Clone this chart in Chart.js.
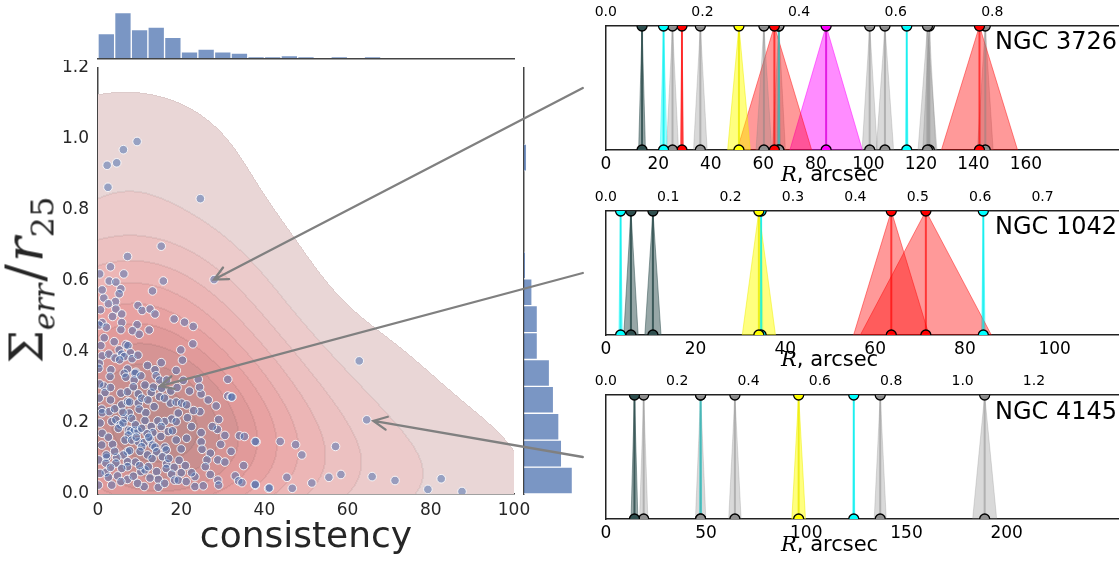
<!DOCTYPE html>
<html>
<head>
<meta charset="utf-8">
<script src="https://cdn.jsdelivr.net/npm/chart.js@4.4.0/dist/chart.umd.min.js"></script>
<style>
body{margin:0;width:1119px;height:563px;overflow:hidden;background:#fff;position:relative;font-family:"DejaVu Sans",sans-serif}
canvas{position:absolute}
.lbl{position:absolute;white-space:nowrap;color:#000}
</style>
</head>
<body>
<canvas id="topHist" width="430" height="62" style="left:90px;top:0"></canvas>
<canvas id="main" width="500" height="470" style="left:40px;top:60px"></canvas>
<canvas id="rightHist" width="64" height="470" style="left:518px;top:60px"></canvas>
<canvas id="p1" width="560" height="180" style="left:580px;top:0"></canvas>
<canvas id="p2" width="560" height="180" style="left:580px;top:185px"></canvas>
<canvas id="p3" width="560" height="180" style="left:580px;top:369px"></canvas>
<canvas id="arrows" width="1119" height="563" style="left:0;top:0;pointer-events:none"></canvas>

<div class="lbl" style="left:31px;top:280px;transform:translate(-50%,-50%) rotate(-90deg);font-family:'DejaVu Serif',serif;color:#262626;line-height:56px"><span style="font-size:47px">&Sigma;</span><i style="font-size:30px;position:relative;top:12px">err</i><span style="font-size:52px;margin:0 2px">/</span><i style="font-size:52px">r</i><span style="font-size:32px;position:relative;top:11px">25</span></div>
<div class="lbl" style="left:306px;top:517px;transform:translateX(-50%);font-size:36px;line-height:36px;color:#262626">consistency</div>

<div class="lbl" style="left:995px;top:29px;font-size:24px;line-height:24px">NGC 3726</div>
<div class="lbl" style="left:995px;top:214px;font-size:24px;line-height:24px">NGC 1042</div>
<div class="lbl" style="left:995px;top:399px;font-size:24px;line-height:24px">NGC 4145</div>
<div class="lbl" style="left:781px;top:164px;font-size:21px;line-height:21px"><i style="font-family:'DejaVu Serif',serif">R</i>, arcsec</div>
<div class="lbl" style="left:781px;top:349px;font-size:21px;line-height:21px"><i style="font-family:'DejaVu Serif',serif">R</i>, arcsec</div>
<div class="lbl" style="left:781px;top:534px;font-size:21px;line-height:21px"><i style="font-family:'DejaVu Serif',serif">R</i>, arcsec</div>

<script>
// scatter: consistency vs sum of errors / r25
const consistency = [
  2.2, 4.5, 6.1, 9.4, 2.4, 24.6, 15.2, 7.1, 6.2, 2.7,
  4.3, 15.7, 27.9, 5.5, 5.1, 13.1, 1.4, 4.2, 2.5, 0.6,
  4.3, 5.7, 9.6, 10.6, 12.5, 13.7, 18.3, 20.8, 22.9, 1.0,
  0.3, 5.7, 5.5, 9.4, 8.3, 9.9, 12.3, 22.8, 19.9, 20.3,
  0.7, 3.9, 6.7, 7.2, 5.1, 7.8, 5.7, 1.0, 2.6, 4.1,
  6.3, 8.2, 9.6, 5.2, 0.3, 0.2, 3.1, 7.1, 9.1, 11.9,
  13.7, 15.2, 18.8, 2.9, 6.3, 6.7, 8.9, 8.7, 10.3, 14.0,
  14.8, 16.5, 24.1, 31.2, 1.4, 1.7, 5.5, 7.1, 8.5, 9.7,
  11.3, 12.8, 14.8, 13.3, 15.3, 24.8, 24.4, 31.2, 32.0, 0.9,
  1.0, 2.7, 5.7, 7.1, 7.6, 9.7, 9.9, 7.5, 11.5, 13.5,
  17.4, 18.8, 20.1, 21.3, 24.5, 28.4, 19.3, 17.7, 18.8, 16.0,
  14.4, 3.3, 4.3, 5.3, 6.5, 8.1, 11.3, 12.8, 15.2, 7.3,
  7.8, 8.7, 9.6, 7.3, 6.5, 8.1, 1.0, 0.9, 13.2, 15.1,
  16.9, 17.9, 18.8, 21.3, 24.8, 24.8, 28.7, 34.0, 35.2, 38.0,
  9.7, 11.1, 10.5, 12.5, 13.1, 13.7, 14.1, 16.1, 16.4, 20.0,
  25.0, 27.0, 7.1, 7.6, 6.1, 4.5, 2.1, 0.2, 4.3, 7.1,
  7.1, 5.7, 1.9, 1.9, 2.5, 4.7, 7.1, 10.3, 11.3, 12.1,
  14.1, 14.5, 16.5, 16.4, 18.3, 17.7, 18.4, 19.3, 21.2, 23.3,
  23.3, 26.2, 28.8, 25.8, 25.3, 28.8, 29.0, 33.0, 33.8, 34.6,
  37.8, 41.0, 11.1, 14.5, 3.3, 0.1, 0.5, 62.8, 64.6, 57.1,
  49.0, 47.5, 43.8, 37.8, 58.4, 55.5, 51.4, 45.4, 46.7, 41.2,
  37.8, 65.9, 71.4, 79.3, 82.5, 87.5, 32.2, 4.9, 6.0, 9.0,
  10.5, 11.8, 12.2, 9.2, 10.1, 11.9, 13.0, 15.5, 17.0, 19.5,
  21.0, 22.5, 9.0, 10.0, 3.5, 2.5, 4.0, 3.0, 4.0, 6.0,
  3.0, 10.5, 12.0, 16.0, 17.5, 19.0, 20.5, 22.0, 26.5, 29.0,
  27.5, 30.5, 22.5, 21.5, 23.0, 0.5, 0.3, 0.4, 1.5, 2.0,
  3.5, 1.0, 0.4, 3.0, 2.0, 3.0, 5.5, 8.5, 9.5, 12.5,
  16.0, 20.0, 27.0, 30.5, 32.0, 29.5, 35.0
]
const sigmaErr = [
  0.926, 0.933, 0.97, 0.993, 0.864, 0.832, 0.698, 0.669, 0.62, 0.60,
  0.597, 0.60, 0.604, 0.578, 0.564, 0.572, 0.552, 0.542, 0.536, 0.519,
  0.521, 0.507, 0.531, 0.517, 0.521, 0.507, 0.493, 0.484, 0.472, 0.483,
  0.476, 0.483, 0.463, 0.477, 0.46, 0.45, 0.462, 0.423, 0.406, 0.377,
  0.418, 0.429, 0.421, 0.418, 0.406, 0.398, 0.394, 0.389, 0.394, 0.383,
  0.387, 0.381, 0.391, 0.378, 0.368, 0.354, 0.35, 0.352, 0.343, 0.362,
  0.35, 0.37, 0.348, 0.331, 0.34, 0.329, 0.34, 0.321, 0.333, 0.333,
  0.321, 0.321, 0.323, 0.323, 0.304, 0.286, 0.284, 0.288, 0.302, 0.282,
  0.307, 0.286, 0.274, 0.301, 0.298, 0.282, 0.301, 0.276, 0.273, 0.239,
  0.229, 0.232, 0.251, 0.26, 0.259, 0.256, 0.239, 0.228, 0.229, 0.246,
  0.256, 0.259, 0.256, 0.251, 0.232, 0.248, 0.228, 0.211, 0.204, 0.204,
  0.206, 0.204, 0.209, 0.195, 0.213, 0.213, 0.207, 0.19, 0.19, 0.18,
  0.178, 0.178, 0.178, 0.166, 0.152, 0.152, 0.171, 0.138, 0.173, 0.162,
  0.176, 0.178, 0.152, 0.157, 0.173, 0.147, 0.182, 0.164, 0.162, 0.147,
  0.147, 0.145, 0.133, 0.154, 0.138, 0.132, 0.119, 0.132, 0.124, 0.127,
  0.126, 0.115, 0.119, 0.122, 0.11, 0.103, 0.103, 0.096, 0.087, 0.091,
  0.077, 0.072, 0.087, 0.061, 0.047, 0.051, 0.041, 0.063, 0.068, 0.077,
  0.063, 0.041, 0.085, 0.072, 0.075, 0.056, 0.039, 0.039, 0.035, 0.049,
  0.021, 0.096, 0.096, 0.077, 0.023, 0.039, 0.025, 0.051, 0.037, 0.032,
  0.025, 0.016, 0.021, 0.019, 0.025, 0.025, 0.058, 0.375, 0.209, 0.134,
  0.11, 0.139, 0.148, 0.148, 0.055, 0.047, 0.031, 0.047, 0.016, 0.017,
  0.027, 0.049, 0.038, 0.013, 0.043, 0.007, 0.273, 0.185, 0.2, 0.195,
  0.185, 0.17, 0.16, 0.16, 0.12, 0.11, 0.1, 0.105, 0.1, 0.095,
  0.08, 0.06, 0.09, 0.08, 0.14, 0.16, 0.12, 0.265, 0.24, 0.23,
  0.3, 0.27, 0.265, 0.27, 0.29, 0.3, 0.32, 0.29, 0.265, 0.21,
  0.19, 0.165, 0.19, 0.215, 0.235, 0.2, 0.27, 0.31, 0.44, 0.47,
  0.5, 0.575, 0.62, 0.64, 0.11, 0.075, 0.035, 0.05, 0.03, 0.045,
  0.03, 0.06, 0.055, 0.09, 0.12, 0.14, 0.08
]
const mainXTicks = [0, 20, 40, 60, 80, 100]
const mainYTicks = [0.0, 0.2, 0.4, 0.6, 0.8, 1.0, 1.2]

// marginal histograms
const topBinWidth = 4
const topCounts = [19, 35, 22, 24, 16, 5, 7, 5, 4, 1, 1, 2, 1, 0, 1, 0, 1, 0, 0, 0, 0, 0, 0, 0, 0]
const rightBinWidth = 0.0758
const rightCounts = [36, 28, 26, 22, 19, 10, 10, 6, 1, 0, 0, 0, 2, 0]

// kde shading
const kdeBwX = 16.5, kdeBwY = 0.135
const kdeLevels = [0.013, 0.055, 0.115, 0.19, 0.28, 0.38, 0.49, 0.61, 0.74, 0.87]
const kdeColors = ['#e9d6d6', '#eccbcb', '#ecc1c1', '#ecb6b6', '#ebacac', '#e8a2a2', '#e19a9a', '#d69494', '#ca8f8f', '#bf8b8b']

// arrows: galaxy point -> panel
const arrowX = [27.9, 14.9, 66.2]
const arrowY = [0.604, 0.304, 0.206]

// panels: radius of features, error, type
const p1R = [13.8, 22.0, 25.4, 29.0, 36.0, 50.7, 60.2, 64.2, 65.9, 65.9, 83.9, 100.5, 106.3, 114.6, 122.5, 123.2, 142.3, 144.5]
const p1Err = [1.3, 1.3, 2.3, 0.6, 2.6, 4.3, 3.0, 14.2, 2.5, 0.6, 13.8, 2.9, 3.3, 0.5, 3.6, 2.5, 14.5, 3.0]
const p1Kind = ['dsg', 'cyan', 'gray', 'red', 'gray', 'yellow', 'gray', 'red', 'gray', 'cyan', 'magenta', 'gray', 'gray', 'cyan', 'gray', 'gray', 'red', 'gray']
const p2R = [3.3, 5.6, 10.5, 34.1, 34.6, 63.6, 71.3, 84.1]
const p2Err = [0.4, 1.6, 1.8, 3.7, 0.4, 8.4, 14.6, 0.4]
const p2Kind = ['cyan', 'dsg', 'dsg', 'yellow', 'cyan', 'red', 'red', 'cyan']
const p3R = [14.3, 18.9, 47.3, 47.3, 64.4, 96.2, 123.7, 136.9, 189.0]
const p3Err = [1.7, 2.1, 2.6, 0.5, 3.1, 3.4, 0.5, 3.0, 6.0]
const p3Kind = ['dsg', 'gray', 'gray', 'cyan', 'gray', 'yellow', 'cyan', 'gray', 'gray']
const r25 = [184, 139, 178]
const bottomTickStep = [20, 20, 50]
const bottomTickLast = [160, 100, 200]
const topTickStep = [0.2, 0.1, 0.2]
const topTickLast = [0.8, 0.7, 1.2]

const kindStyle = {
  red: {fill: 'rgba(255,0,0,0.4)', edge: 'rgba(255,0,0,0.45)', line: 'rgba(255,0,0,0.65)', dot: '#ff0000'},
  gray: {fill: 'rgba(128,128,128,0.3)', edge: 'rgba(128,128,128,0.25)', line: 'rgba(128,128,128,0.45)', dot: '#8f8f8f'},
  cyan: {fill: 'rgba(0,255,255,0.4)', edge: 'rgba(0,255,255,0.4)', line: 'rgba(0,235,235,0.75)', dot: '#00ffff'},
  yellow: {fill: 'rgba(255,255,0,0.5)', edge: 'rgba(240,240,0,0.5)', line: 'rgba(235,235,0,0.8)', dot: '#ffff00'},
  magenta: {fill: 'rgba(255,0,255,0.45)', edge: 'rgba(255,0,255,0.5)', line: 'rgba(220,0,220,0.8)', dot: '#ff00ff'},
  dsg: {fill: 'rgba(47,79,79,0.5)', edge: 'rgba(47,79,79,0.5)', line: 'rgba(47,79,79,0.85)', dot: '#2f4f4f'}
}

Chart.defaults.font.family = '"DejaVu Sans", sans-serif'
Chart.defaults.animation = false
Chart.defaults.plugins.legend.display = false
Chart.defaults.plugins.tooltip.enabled = false

const spine = {display: true, color: '#444', width: 1.5}

// keep the plot box where the layout padding says, labels may overflow
function noPad(s) {
  s.paddingLeft = 0; s.paddingRight = 0; s.paddingTop = 0; s.paddingBottom = 0
}

function hexToRgb(h) {
  return [parseInt(h.slice(1, 3), 16), parseInt(h.slice(3, 5), 16), parseInt(h.slice(5, 7), 16)]
}

function buildKde(a, xs, ys) {
  const w = Math.round(a.right - a.left), h = Math.round(a.bottom - a.top), step = 3
  const gw = Math.ceil(w / step) + 2, gh = Math.ceil(h / step) + 2
  const g = new Float32Array(gw * gh)
  let max = 0
  for (let j = 0; j < gh; j++) {
    const vy = ys.getValueForPixel(a.top + j * step)
    for (let i = 0; i < gw; i++) {
      const vx = xs.getValueForPixel(a.left + i * step)
      let d = 0
      for (let k = 0; k < consistency.length; k++) {
        const dx = (vx - consistency[k]) / kdeBwX, dy = (vy - sigmaErr[k]) / kdeBwY
        d += Math.exp(-0.5 * (dx * dx + dy * dy))
      }
      g[j * gw + i] = d
      if (d > max) max = d
    }
  }
  // level of every pixel
  const lev = new Int8Array(w * h).fill(-1)
  for (let py = 0; py < h; py++) {
    const fy = py / step, j0 = Math.floor(fy), ty = fy - j0
    for (let px = 0; px < w; px++) {
      const fx = px / step, i0 = Math.floor(fx), tx = fx - i0
      const v = (g[j0 * gw + i0] * (1 - tx) + g[j0 * gw + i0 + 1] * tx) * (1 - ty) +
                (g[(j0 + 1) * gw + i0] * (1 - tx) + g[(j0 + 1) * gw + i0 + 1] * tx) * ty
      const r = v / max
      for (let L = 0; L < kdeLevels.length; L++) if (r >= kdeLevels[L]) lev[py * w + px] = L
    }
  }
  const off = document.createElement('canvas')
  off.width = w; off.height = h
  const octx = off.getContext('2d')
  const img = octx.createImageData(w, h)
  const cols = kdeColors.map(hexToRgb)
  for (let py = 0; py < h; py++) {
    for (let px = 0; px < w; px++) {
      const p = py * w + px, L = lev[p]
      if (L < 0) continue
      const edge = (px > 0 && lev[p - 1] !== L) || (py > 0 && lev[p - w] !== L) ||
                   (px < w - 1 && lev[p + 1] !== L) || (py < h - 1 && lev[p + w] !== L)
      const f = edge ? 0.95 : 1
      const c = cols[L], o = p * 4
      img.data[o] = c[0] * f; img.data[o + 1] = c[1] * f; img.data[o + 2] = c[2] * f; img.data[o + 3] = 255
    }
  }
  octx.putImageData(img, 0, 0)
  return off
}

const kdePlugin = {
  id: 'kde',
  beforeDatasetsDraw(chart) {
    const a = chart.chartArea
    if (!chart.$kde) chart.$kde = buildKde(a, chart.scales.x, chart.scales.y)
    chart.ctx.drawImage(chart.$kde, a.left, a.top)
  }
}

// main scatter
const mainChart = new Chart(document.getElementById('main'), {
  type: 'scatter',
  data: {
    datasets: [{
      data: consistency.map((c, i) => ({x: c, y: sigmaErr[i]})),
      backgroundColor: 'rgba(76,114,176,0.52)',
      borderColor: 'rgba(255,255,255,0.85)',
      borderWidth: 1,
      pointRadius: 4.3
    }]
  },
  options: {
    responsive: false,
    layout: {padding: {top: 8, right: 26, left: 0, bottom: 0}},
    scales: {
      x: {
        min: 0, max: 100,
        afterBuildTicks: s => { s.ticks = mainXTicks.map(v => ({value: v})) },
        afterFit: s => { s.height = 36; noPad(s) },
        grid: {display: false, drawTicks: false},
        border: spine,
        ticks: {color: '#262626', font: {size: 17}, padding: 6, maxRotation: 0}
      },
      y: {
        min: 0, max: 1.2,
        afterBuildTicks: s => { s.ticks = mainYTicks.map(v => ({value: v})) },
        afterFit: s => { s.width = 58; noPad(s) },
        grid: {display: false, drawTicks: false},
        border: spine,
        ticks: {color: '#262626', font: {size: 17}, padding: 9, callback: v => v.toFixed(1)}
      }
    }
  },
  plugins: [kdePlugin]
})

// top marginal histogram
new Chart(document.getElementById('topHist'), {
  type: 'bar',
  data: {
    datasets: [{
      data: topCounts.map((c, i) => ({x: (i + 0.5) * topBinWidth, y: c})),
      backgroundColor: 'rgba(76,114,176,0.74)',
      borderColor: 'rgba(255,255,255,0.6)',
      borderWidth: 1,
      barPercentage: 1,
      categoryPercentage: 1
    }]
  },
  options: {
    responsive: false,
    layout: {padding: {top: 4, right: 6, left: 8, bottom: 3.7}},
    scales: {
      x: {type: 'linear', offset: false, min: 0, max: 100, ticks: {display: false}, grid: {display: false, drawTicks: false},
          border: spine, afterFit: s => { s.height = 0; noPad(s) }},
      y: {display: false, min: 0, max: 41.6}
    }
  }
})

// right marginal histogram
new Chart(document.getElementById('rightHist'), {
  type: 'bar',
  data: {
    datasets: [{
      data: rightCounts.map((c, i) => ({y: (i + 0.5) * rightBinWidth, x: c})),
      backgroundColor: 'rgba(76,114,176,0.74)',
      borderColor: 'rgba(255,255,255,0.6)',
      borderWidth: 1,
      barPercentage: 1,
      categoryPercentage: 1
    }]
  },
  options: {
    responsive: false,
    indexAxis: 'y',
    layout: {padding: {top: 8, right: 0, left: 6, bottom: 36}},
    scales: {
      y: {type: 'linear', offset: false, min: 0, max: 1.2, ticks: {display: false}, grid: {display: false, drawTicks: false},
          border: spine, afterFit: s => { s.width = 0; noPad(s) }},
      x: {display: false, min: 0, max: 43.1}
    }
  }
})

// feature panels
function panelDatasets(R, Err, Kind) {
  const tri = R.map((r, i) => {
    const st = kindStyle[Kind[i]]
    return {
      data: [{x: r - Err[i], y: 0}, {x: r, y: 1}, {x: r + Err[i], y: 0}],
      showLine: true, fill: 'origin', backgroundColor: st.fill, borderColor: st.edge,
      borderWidth: 1, pointRadius: 0, order: 2
    }
  })
  const lines = R.map((r, i) => {
    const st = kindStyle[Kind[i]]
    return {
      data: [{x: r, y: 0}, {x: r, y: 1}],
      showLine: true, borderColor: st.line, borderWidth: 2,
      pointRadius: 5, pointBackgroundColor: st.dot, pointBorderColor: '#000', pointBorderWidth: 1.3,
      clip: 0, order: 1
    }
  })
  return tri.concat(lines)
}

function makePanel(id, R, Err, Kind, xmax, k) {
  return new Chart(document.getElementById(id), {
    type: 'scatter',
    data: {datasets: panelDatasets(R, Err, Kind)},
    options: {
      responsive: false,
      layout: {padding: {top: 0, right: 9, left: 25.8, bottom: 0}},
      scales: {
        x: {
          min: 0, max: xmax,
          afterFit: s => { s.height = 30; noPad(s) },
          grid: {display: false, drawTicks: false},
          border: {display: true, color: '#222', width: 1.5},
          ticks: {stepSize: bottomTickStep[k], color: '#000', font: {size: 17}, padding: 4, maxRotation: 0, autoSkip: false,
                  callback: v => v <= bottomTickLast[k] ? String(v) : ''}
        },
        x2: {
          type: 'linear', position: 'top', min: 0, max: xmax / r25[k],
          afterFit: s => { s.height = 26; noPad(s) },
          grid: {display: false, drawTicks: false},
          border: {display: true, color: '#222', width: 1.5},
          ticks: {stepSize: topTickStep[k], color: '#000', font: {size: 14}, padding: 5, maxRotation: 0, autoSkip: false,
                  callback: v => v <= topTickLast[k] + 1e-9 ? v.toFixed(1) : ''}
        },
        y: {
          min: 0, max: 1,
          afterFit: s => { s.width = 0; noPad(s) },
          ticks: {display: false},
          grid: {display: false, drawTicks: false},
          border: {display: true, color: '#222', width: 1.5}
        }
      }
    }
  })
}

const panels = [
  makePanel('p1', p1R, p1Err, p1Kind, 200, 0),
  makePanel('p2', p2R, p2Err, p2Kind, 117, 1),
  makePanel('p3', p3R, p3Err, p3Kind, 262, 2)
]

// arrows from panels to galaxies in the scatter
function drawArrows() {
  const ctx = document.getElementById('arrows').getContext('2d')
  const mc = document.getElementById('main')
  ctx.strokeStyle = '#808080'
  ctx.lineWidth = 2.3
  ctx.lineCap = 'round'
  panels.forEach((p, i) => {
    const cv = p.canvas
    const x0 = cv.offsetLeft + p.chartArea.left - 23
    const y0 = cv.offsetTop + (p.chartArea.top + p.chartArea.bottom) / 2
    const x1 = mc.offsetLeft + mainChart.scales.x.getPixelForValue(arrowX[i])
    const y1 = mc.offsetTop + mainChart.scales.y.getPixelForValue(arrowY[i])
    const ang = Math.atan2(y0 - y1, x0 - x1)
    ctx.beginPath()
    ctx.moveTo(x0, y0); ctx.lineTo(x1, y1)
    ctx.moveTo(x1 + 15 * Math.cos(ang + 0.45), y1 + 15 * Math.sin(ang + 0.45))
    ctx.lineTo(x1, y1)
    ctx.lineTo(x1 + 15 * Math.cos(ang - 0.45), y1 + 15 * Math.sin(ang - 0.45))
    ctx.stroke()
  })
}
drawArrows()
</script>
</body>
</html>
